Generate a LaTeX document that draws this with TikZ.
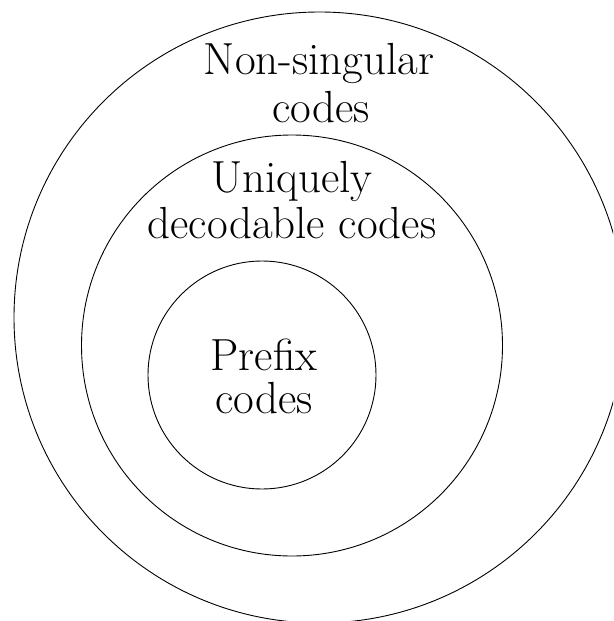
\documentclass[tikz,border=0pt]{standalone}
\begin{document}
\begin{tikzpicture}[x=1pt,y=-1pt,
  ring/.style={draw=black,line width=0.9pt},
  lbl/.style={anchor=base,inner sep=0pt,font=\fontsize{45}{48}\selectfont}]
\useasboundingbox (0,0) rectangle (613,621);
\clip (0,0) rectangle (613,621);
\draw[ring] (319.5,317.5) circle[radius=305.5];
\draw[ring] (292,345.5) circle[radius=210.5];
\draw[ring] (262,375) circle[radius=114];
\node[lbl] (ns1) at (319,74) {Non-singular};
\node[lbl] (ns2) at (321,122) {codes};
\node[lbl] (ud1) at (292,192) {Uniquely};
\node[lbl] (ud2) at (292,238) {decodable codes};
\node[lbl] (pc1) at (264,370) {Prefix};
\node[lbl] (pc2) at (264,413) {codes};
\end{tikzpicture}
\end{document}
